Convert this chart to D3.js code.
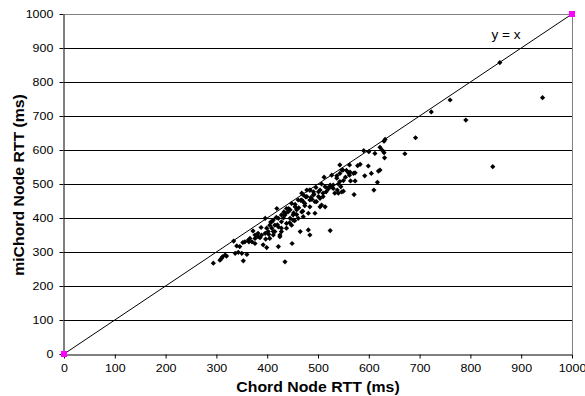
<!DOCTYPE html>
<html>
<head>
<meta charset="utf-8">
<script src="https://cdn.jsdelivr.net/npm/d3@7"></script>
<style>
  body { margin: 0; background: #fff; }
  svg { font-family: "Liberation Sans", Arial, sans-serif; }
</style>
</head>
<body>
<svg id="chart" width="585" height="396"></svg>
<script>
// chord RTT (x) vs miChord RTT (y), ms
const chordRtt = [
  858, 942, 760, 723, 791, 692, 671, 844,
  632, 630, 600, 622, 630, 631, 622, 619, 617, 610, 599, 605, 592, 578,
  573, 570, 563, 560, 573, 562, 564, 571, 562, 549, 543, 537, 550, 527,
  545, 538, 550, 530, 524, 533, 520, 516, 507, 504, 510, 501, 491, 484,
  478, 494, 484, 471, 474, 468, 504, 514, 543,
  547, 537, 543, 530, 540, 547, 524, 514, 510, 501, 504, 507, 497, 491,
  484, 478, 471, 468, 461, 455, 458, 448, 445, 438, 435, 428, 422, 415,
  409, 412, 428, 438, 451, 461, 471, 481, 484, 494, 465, 481, 484, 524, 425,
  294, 307, 310, 312, 317, 320, 337, 343, 350, 353, 346, 360, 356, 363,
  370, 376, 382, 389, 396, 399, 392, 376, 396, 399, 405, 409, 415, 422,
  425, 422, 435, 449, 435, 445, 419, 442, 412, 405, 402, 412, 428, 428,
  438, 448, 451,
  455, 462, 466, 470, 476, 488, 492, 496, 452, 441, 432, 418, 388, 382,
  372, 366, 352, 340, 334, 397, 407, 458, 474, 486, 512, 518, 556, 583,
  590, 612, 626, 468, 454, 444, 433, 420, 403, 386, 376, 364, 540, 554
];
const michordRtt = [
  857, 754, 747, 712, 688, 636, 589, 551,
  631, 626, 595, 608, 592, 577, 541, 538, 505, 482, 553, 531, 524, 554,
  533, 531, 535, 533, 509, 556, 509, 469, 526, 541, 531, 524, 510, 526,
  492, 482, 479, 487, 492, 473, 485, 477, 500, 482, 463, 463, 477, 482,
  482, 448, 453, 468, 443, 453, 433, 433, 556,
  541, 517, 507, 497, 473, 477, 497, 492, 473, 477, 458, 438, 448, 468,
  482, 463, 448, 473, 453, 433, 424, 443, 424, 428, 414, 409, 399, 379,
  370, 360, 370, 384, 394, 399, 404, 414, 433, 414, 360, 365, 350, 363, 350,
  267, 276, 281, 286, 291, 288, 296, 299, 296, 274, 316, 293, 330, 335,
  330, 340, 345, 350, 355, 313, 321, 325, 399, 370, 379, 389, 360, 374,
  345, 316, 271, 325, 409, 399, 428, 428, 350, 340, 360, 394, 389, 360,
  370, 379, 409,
  440, 430, 452, 420, 462, 455, 470, 490, 415, 418, 400, 402, 372, 355,
  362, 340, 328, 318, 332, 338, 388, 410, 436, 460, 520, 488, 540, 558,
  598, 590, 600, 418, 392, 386, 418, 380, 352, 342, 350, 330, 500, 520
];
const refX = [0, 1000];
const refY = [0, 1000];
const ticks = d3.range(0, 1001, 100);

const svg = d3.select("#chart");
const x = d3.scaleLinear().domain([0, 1000]).range([64, 572]);
const y = d3.scaleLinear().domain([0, 1000]).range([354, 14]);

// the original's text is a little wider than Liberation Sans
const stretch = 1.13;

// gridlines
svg.append("g")
  .selectAll("line")
  .data(ticks.filter(t => t > 0 && t < 1000))
  .enter().append("line")
  .attr("x1", x(0)).attr("x2", x(1000))
  .attr("y1", d => Math.round(y(d)) + 0.5).attr("y2", d => Math.round(y(d)) + 0.5)
  .attr("stroke", "#000").attr("stroke-width", 1);

// plot area border (top/right)
svg.append("path")
  .attr("d", `M${x(0)},${Math.round(y(1000)) + 0.5}H${Math.round(x(1000)) + 0.5}V${y(0)}`)
  .attr("fill", "none").attr("stroke", "#808080").attr("stroke-width", 1);

// axes
const xAxis = svg.append("g")
  .attr("transform", `translate(0,${Math.round(y(0)) + 0.5})`)
  .call(d3.axisBottom(x).tickValues(ticks).tickFormat(d3.format("d"))
    .tickSize(4).tickPadding(6).tickSizeOuter(0));
const yAxis = svg.append("g")
  .attr("transform", `translate(${Math.round(x(0)) - 0.5},0)`)
  .call(d3.axisLeft(y).tickValues(ticks).tickFormat(d3.format("d"))
    .tickSize(4).tickPadding(5).tickSizeOuter(0));
[xAxis, yAxis].forEach(a => {
  a.select(".domain").attr("stroke", "#000");
  a.selectAll(".tick line").attr("stroke", "#000");
  a.selectAll(".tick text")
    .attr("fill", "#000")
    .attr("transform", `scale(${stretch},1)`)
    .style("font-family", "'Liberation Sans', Arial, sans-serif")
    .style("font-size", "11px");
});

// y = x reference line
svg.append("line")
  .attr("x1", x(refX[0])).attr("y1", y(refY[0]))
  .attr("x2", x(refX[1])).attr("y2", y(refY[1]))
  .attr("stroke", "#000").attr("stroke-width", 1);

svg.append("text")
  .attr("transform", `translate(506,39) scale(${stretch},1)`)
  .attr("text-anchor", "middle")
  .style("font-size", "12px")
  .text("y = x");

// data points
svg.append("g")
  .selectAll("path")
  .data(chordRtt.map((d, i) => [d, michordRtt[i]]))
  .enter().append("path")
  .attr("transform", d => `translate(${x(d[0])},${y(d[1])})`)
  .attr("d", "M0,-2.6L2.6,0L0,2.6L-2.6,0Z")
  .attr("fill", "#000");

// reference end markers
svg.append("g")
  .selectAll("rect")
  .data(refX.map((d, i) => [d, refY[i]]))
  .enter().append("rect")
  .attr("x", d => x(d[0]) - 3).attr("y", d => y(d[1]) - 3)
  .attr("width", 6).attr("height", 6)
  .attr("fill", "#ff00ff");

// axis titles
svg.append("text")
  .attr("transform", `translate(318,392) scale(${stretch},1)`)
  .attr("text-anchor", "middle")
  .style("font-size", "14px").style("font-weight", "bold")
  .text("Chord Node RTT (ms)");

svg.append("text")
  .attr("transform", `translate(24,185) rotate(-90) scale(${stretch},1)`)
  .attr("text-anchor", "middle")
  .style("font-size", "14px").style("font-weight", "bold")
  .text("miChord Node RTT (ms)");
</script>
</body>
</html>
